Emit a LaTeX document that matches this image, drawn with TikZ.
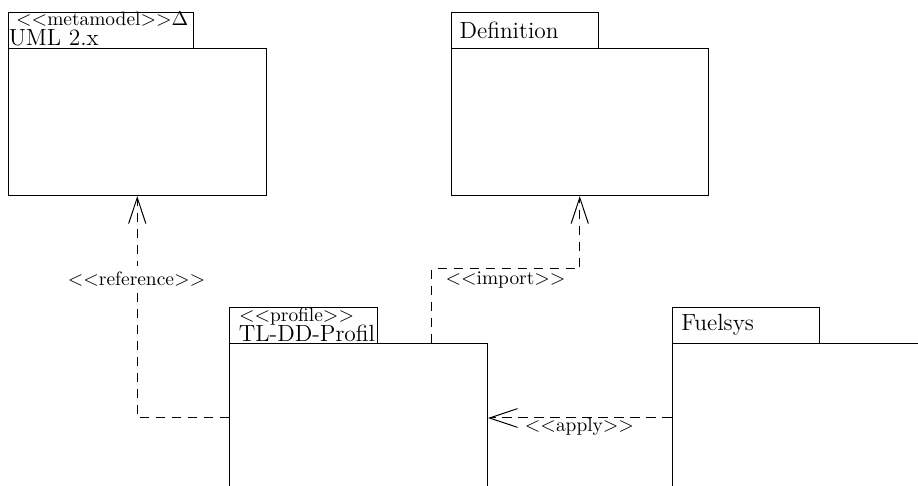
\documentclass[tikz,border=0pt]{standalone}
\usetikzlibrary{arrows.meta}
\newcommand\pkgbig{\fontsize{11.7}{13}\selectfont}
\newcommand\pkgsmall{\fontsize{9.7}{11}\selectfont}
\tikzset{
  box/.style={draw, line width=0.5pt, anchor=north west, inner sep=0pt},
  txt/.style={anchor=base west, inner sep=0pt},
  dep/.style={line width=0.5pt, dash pattern=on 4.6pt off 3.4pt,
    -{Straight Barb[length=13pt,width=8.6pt,line width=0.5pt]}},
  lbl/.style={font=\pkgsmall, inner sep=0pt, anchor=base},
}
\begin{document}
\begin{tikzpicture}[x=0.5pt,y=-0.5pt]
\useasboundingbox (0,0) rectangle (918,486);
\clip (0,0) rectangle (918,486);
% UML 2.x
\node[box, minimum width=92.5pt, minimum height=18.25pt] (umlTab) at (7.5,12) {};
\node[box, minimum width=129.25pt, minimum height=73.25pt] (umlBody) at (7.5,48.5) {};
\node[txt, font=\pkgsmall] (umlSt) at (15.8,26) {$<<$metamodel$>>$$\Delta$};
\node[txt, font=\pkgbig] (umlName) at (8.4,46) {UML 2.x};
% Definition
\node[box, minimum width=73.75pt, minimum height=18.25pt] (defTab) at (450.5,12) {};
\node[box, minimum width=128.75pt, minimum height=73.25pt] (defBody) at (450.5,48.5) {};
\node[txt, font=\pkgbig] (defName) at (459.2,38.2) {Definition};
% TL-DD-Profil
\node[box, minimum width=74pt, minimum height=18pt] (tlTab) at (229,307) {};
\node[box, minimum width=129pt, minimum height=74.5pt] (tlBody) at (229,343) {};
\node[txt, font=\pkgsmall] (tlSt) at (238.6,321.2) {$<<$profile$>>$};
\node[txt, font=\pkgbig] (tlName) at (238.4,341.6) {TL-DD-Profil};
% Fuelsys
\node[box, minimum width=73.5pt, minimum height=18pt] (fuelTab) at (671.5,307) {};
\node[box, minimum width=200pt, minimum height=74.5pt] (fuelBody) at (671.5,343) {};
\node[txt, font=\pkgbig] (fuelName) at (681,330.7) {Fuelsys};
% connectors
\draw[dep] (tlBody.west) -| (umlBody.south);
\node[lbl, fill=white, inner xsep=1pt, inner ysep=3pt] (refLbl) at (136.5,285.5) {$<<$reference$>>$};
\coordinate (impStart) at (431.7,343);
\draw[dep] (impStart) -- ++(0,-74) -| (defBody.south);
\node[lbl] (impLbl) at (505.5,284.5) {$<<$import$>>$};
\draw[dep, -{Straight Barb[length=14pt,width=9.4pt,line width=0.5pt]}] (fuelBody.west) -- (tlBody.east);
\node[lbl] (applyLbl) at (579.5,431.5) {$<<$apply$>>$};
\end{tikzpicture}
\end{document}
